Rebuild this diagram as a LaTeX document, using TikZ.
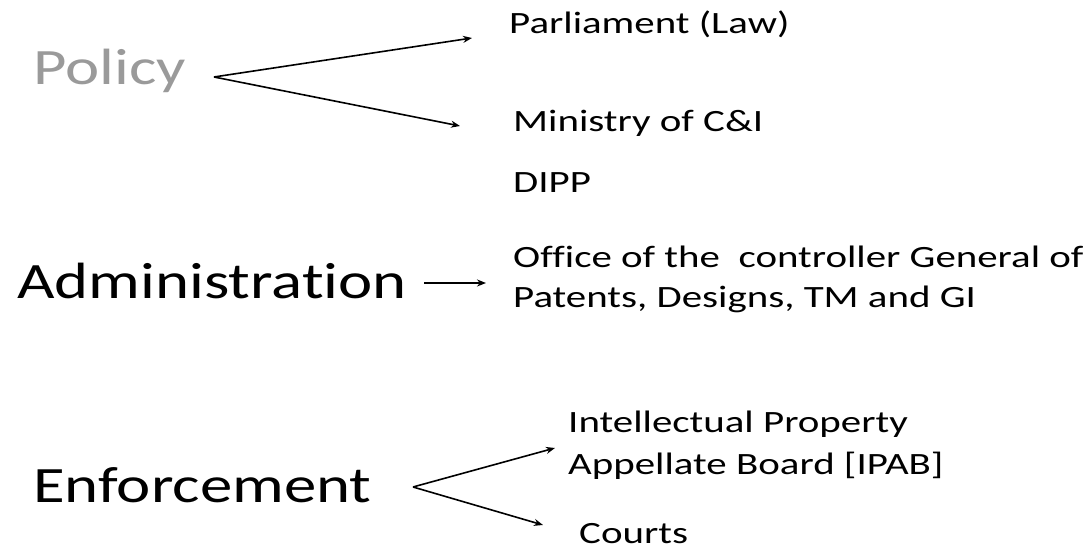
\documentclass[tikz,border=0pt]{standalone}
\usepackage{fontspec}
\setmainfont{Carlito}
\newfontfamily\smallwide[FakeStretch=1.32,Ligatures=NoCommon]{Carlito}
\newfontfamily\bigwide[FakeStretch=1.27,Ligatures=NoCommon]{Carlito}
\usetikzlibrary{arrows.meta}
\definecolor{policygray}{HTML}{9A9A9A}
\begin{document}
\begin{tikzpicture}[x=1pt,y=1pt,
  big/.style={anchor=base west,inner sep=0pt,font=\bigwide\fontsize{51}{51}\selectfont},
  small/.style={anchor=base west,inner sep=0pt,font=\smallwide\fontsize{31}{31}\selectfont},
  conn/.style={line width=1.6pt,-{Stealth[length=9pt,width=7pt]}}]
\useasboundingbox (0,0) rectangle (1088,553);
\node[big,text=policygray] (policy) at (33,468) {Policy};
\node[big] (admin) at (17,254) {Administration};
\node[big] (enf) at (33,50) {Enforcement};
\node[small] (parl) at (509,519) {Parliament (Law)};
\node[small] (min) at (513,421) {Ministry of C\&I};
\node[small] (dipp) at (513,360) {DIPP};
\node[small] (off1) at (513,285) {Office of the\ \ controller General of};
\node[small] (off2) at (513,245) {Patents, Designs, TM and GI};
\node[small] (ipab1) at (568,120) {Intellectual Property};
\node[small] (ipab2) at (568,78) {Appellate Board [IPAB]};
\node[small] (courts) at (579,9) {Courts};
\coordinate (pS) at (214,476);
\coordinate (pA) at (472,515);
\coordinate (pB) at (460,427);
\coordinate (aS) at (424,270);
\coordinate (aE) at (486,270);
\coordinate (eS) at (413,66);
\coordinate (eA) at (555,105);
\coordinate (eB) at (543,28);
\draw[conn] (pS) -- (pA);
\draw[conn] (pS) -- (pB);
\draw[conn] (aS) -- (aE);
\draw[conn] (eS) -- (eA);
\draw[conn] (eS) -- (eB);
\end{tikzpicture}
\end{document}
